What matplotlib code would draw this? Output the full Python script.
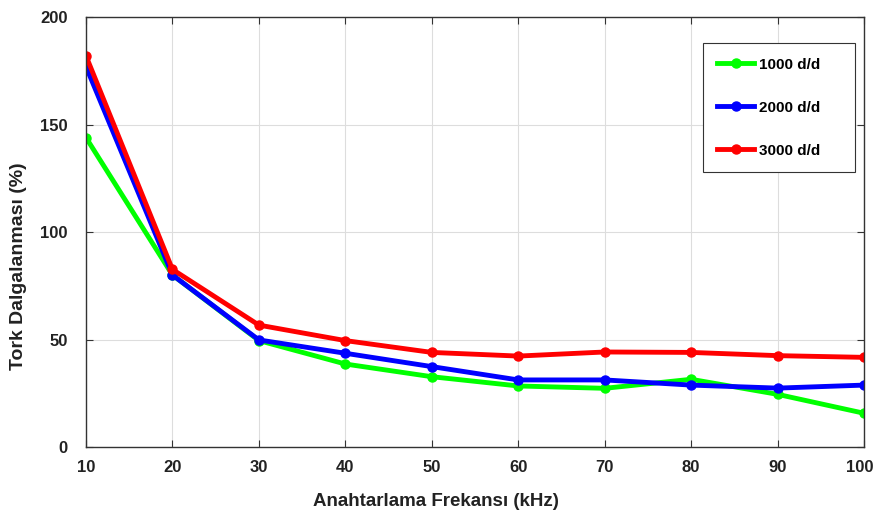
import matplotlib
matplotlib.use("Agg")
import matplotlib.pyplot as plt
from matplotlib.transforms import ScaledTranslation

freq = [10, 20, 30, 40, 50, 60, 70, 80, 90, 100]
rpm1000 = [143.9, 80.0, 49.5, 38.6, 32.7, 28.4, 27.3, 31.5, 24.5, 15.7]
rpm2000 = [176.9, 80.0, 49.8, 43.6, 37.4, 31.2, 31.2, 28.8, 27.4, 28.8]
rpm3000 = [181.9, 82.6, 56.7, 49.5, 44.0, 42.3, 44.2, 44.0, 42.5, 41.7]
labels = ["1000 d/d", "2000 d/d", "3000 d/d"]
colors = ["#00ff00", "#0000ff", "#ff0000"]
xticks = [10, 20, 30, 40, 50, 60, 70, 80, 90, 100]
yticks = [0, 50, 100, 150, 200]

plt.rcParams['font.family'] = ['Liberation Sans', 'DejaVu Sans']
plt.rcParams['font.weight'] = 'bold'

fig = plt.figure(figsize=(8.74, 5.15), dpi=100)
ax = fig.add_axes([0.0984, 0.132, 0.8902, 0.835])

for ys, lab, c in zip([rpm1000, rpm2000, rpm3000], labels, colors):
    ax.plot(freq, ys, color=c, lw=3.5, marker='o', ms=6.5, label=lab)

ax.set_xlim(10, 100)
ax.set_ylim(0, 200)
ax.set_xticks(xticks)
ax.set_yticks(yticks)
ax.grid(True, color='#dddddd', lw=0.8)
ax.tick_params(direction='in', top=True, right=True, length=5, color='#333333',
               labelsize=12, labelcolor='#222222')
ax.tick_params(axis='x', pad=9)
ax.tick_params(axis='y', pad=13)
for lbl in ax.get_xticklabels() + ax.get_yticklabels():
    lbl.set_fontweight('bold')
last = ax.get_xticklabels()[-1]
last.set_transform(last.get_transform() + ScaledTranslation(-4/100, 0, fig.dpi_scale_trans))
for s in ax.spines.values():
    s.set_color('#333333')
    s.set_linewidth(1.0)

ax.set_xlabel("Anahtarlama Frekansı (kHz)", fontsize=13.5, fontweight='bold', color='#222222')
ax.set_ylabel("Tork Dalgalanması (%)", fontsize=14, fontweight='bold', color='#222222')
ax.xaxis.set_label_coords(0.45, -0.107)
ax.yaxis.set_label_coords(-0.076, 0.421)

leg = ax.legend(loc='upper left', bbox_to_anchor=(0.793, 0.6335, 0.1954, 0.306),
                mode='expand', borderaxespad=0, fancybox=False,
                edgecolor='#333333', framealpha=1, handlelength=2.4,
                labelspacing=1.9, borderpad=0.95, handletextpad=0.3,
                prop={'weight': 'bold', 'size': 11})
leg.get_frame().set_linewidth(0.8)

fig.savefig("out.png", dpi=100)
